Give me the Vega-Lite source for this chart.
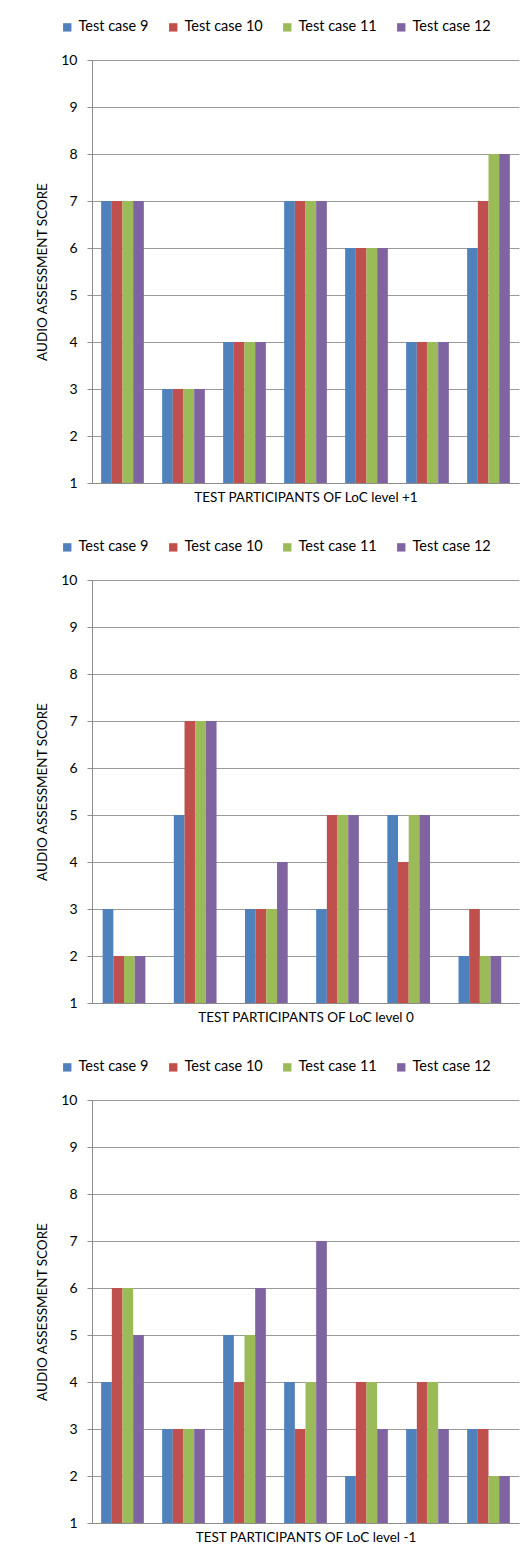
{
  "$schema": "https://vega.github.io/schema/vega-lite/v6.json",
  "background": "white",
  "padding": {"left": 35, "top": 20, "right": 10, "bottom": 10},
  "spacing": 36,
  "resolve": {"scale": {"color": "independent"}, "legend": {"color": "independent"}},
  "config": {
    "font": "Lato",
    "view": {"stroke": null},
    "axis": {
      "domainColor": "#8c8c8c",
      "gridColor": "#9a9a9a",
      "tickColor": "#8c8c8c",
      "labelColor": "#000000",
      "titleColor": "#000000",
      "labelFont": "Lato",
      "titleFont": "Lato",
      "titleFontWeight": "normal",
      "labelFontSize": 14,
      "titleFontSize": 13.5
    },
    "legend": {
      "labelFont": "Lato",
      "labelFontSize": 14.5,
      "labelColor": "#000000",
      "symbolType": "square",
      "symbolSize": 70,
      "symbolStrokeWidth": 0,
      "columnPadding": 17,
      "labelOffset": 4
    }
  },
  "datasets": {
    "scores": [
      {"panel": "+1", "participant": "P1", "case": "Test case 9", "score": 7},
      {"panel": "+1", "participant": "P1", "case": "Test case 10", "score": 7},
      {"panel": "+1", "participant": "P1", "case": "Test case 11", "score": 7},
      {"panel": "+1", "participant": "P1", "case": "Test case 12", "score": 7},
      {"panel": "+1", "participant": "P2", "case": "Test case 9", "score": 3},
      {"panel": "+1", "participant": "P2", "case": "Test case 10", "score": 3},
      {"panel": "+1", "participant": "P2", "case": "Test case 11", "score": 3},
      {"panel": "+1", "participant": "P2", "case": "Test case 12", "score": 3},
      {"panel": "+1", "participant": "P3", "case": "Test case 9", "score": 4},
      {"panel": "+1", "participant": "P3", "case": "Test case 10", "score": 4},
      {"panel": "+1", "participant": "P3", "case": "Test case 11", "score": 4},
      {"panel": "+1", "participant": "P3", "case": "Test case 12", "score": 4},
      {"panel": "+1", "participant": "P4", "case": "Test case 9", "score": 7},
      {"panel": "+1", "participant": "P4", "case": "Test case 10", "score": 7},
      {"panel": "+1", "participant": "P4", "case": "Test case 11", "score": 7},
      {"panel": "+1", "participant": "P4", "case": "Test case 12", "score": 7},
      {"panel": "+1", "participant": "P5", "case": "Test case 9", "score": 6},
      {"panel": "+1", "participant": "P5", "case": "Test case 10", "score": 6},
      {"panel": "+1", "participant": "P5", "case": "Test case 11", "score": 6},
      {"panel": "+1", "participant": "P5", "case": "Test case 12", "score": 6},
      {"panel": "+1", "participant": "P6", "case": "Test case 9", "score": 4},
      {"panel": "+1", "participant": "P6", "case": "Test case 10", "score": 4},
      {"panel": "+1", "participant": "P6", "case": "Test case 11", "score": 4},
      {"panel": "+1", "participant": "P6", "case": "Test case 12", "score": 4},
      {"panel": "+1", "participant": "P7", "case": "Test case 9", "score": 6},
      {"panel": "+1", "participant": "P7", "case": "Test case 10", "score": 7},
      {"panel": "+1", "participant": "P7", "case": "Test case 11", "score": 8},
      {"panel": "+1", "participant": "P7", "case": "Test case 12", "score": 8},

      {"panel": "0", "participant": "P1", "case": "Test case 9", "score": 3},
      {"panel": "0", "participant": "P1", "case": "Test case 10", "score": 2},
      {"panel": "0", "participant": "P1", "case": "Test case 11", "score": 2},
      {"panel": "0", "participant": "P1", "case": "Test case 12", "score": 2},
      {"panel": "0", "participant": "P2", "case": "Test case 9", "score": 5},
      {"panel": "0", "participant": "P2", "case": "Test case 10", "score": 7},
      {"panel": "0", "participant": "P2", "case": "Test case 11", "score": 7},
      {"panel": "0", "participant": "P2", "case": "Test case 12", "score": 7},
      {"panel": "0", "participant": "P3", "case": "Test case 9", "score": 3},
      {"panel": "0", "participant": "P3", "case": "Test case 10", "score": 3},
      {"panel": "0", "participant": "P3", "case": "Test case 11", "score": 3},
      {"panel": "0", "participant": "P3", "case": "Test case 12", "score": 4},
      {"panel": "0", "participant": "P4", "case": "Test case 9", "score": 3},
      {"panel": "0", "participant": "P4", "case": "Test case 10", "score": 5},
      {"panel": "0", "participant": "P4", "case": "Test case 11", "score": 5},
      {"panel": "0", "participant": "P4", "case": "Test case 12", "score": 5},
      {"panel": "0", "participant": "P5", "case": "Test case 9", "score": 5},
      {"panel": "0", "participant": "P5", "case": "Test case 10", "score": 4},
      {"panel": "0", "participant": "P5", "case": "Test case 11", "score": 5},
      {"panel": "0", "participant": "P5", "case": "Test case 12", "score": 5},
      {"panel": "0", "participant": "P6", "case": "Test case 9", "score": 2},
      {"panel": "0", "participant": "P6", "case": "Test case 10", "score": 3},
      {"panel": "0", "participant": "P6", "case": "Test case 11", "score": 2},
      {"panel": "0", "participant": "P6", "case": "Test case 12", "score": 2},

      {"panel": "-1", "participant": "P1", "case": "Test case 9", "score": 4},
      {"panel": "-1", "participant": "P1", "case": "Test case 10", "score": 6},
      {"panel": "-1", "participant": "P1", "case": "Test case 11", "score": 6},
      {"panel": "-1", "participant": "P1", "case": "Test case 12", "score": 5},
      {"panel": "-1", "participant": "P2", "case": "Test case 9", "score": 3},
      {"panel": "-1", "participant": "P2", "case": "Test case 10", "score": 3},
      {"panel": "-1", "participant": "P2", "case": "Test case 11", "score": 3},
      {"panel": "-1", "participant": "P2", "case": "Test case 12", "score": 3},
      {"panel": "-1", "participant": "P3", "case": "Test case 9", "score": 5},
      {"panel": "-1", "participant": "P3", "case": "Test case 10", "score": 4},
      {"panel": "-1", "participant": "P3", "case": "Test case 11", "score": 5},
      {"panel": "-1", "participant": "P3", "case": "Test case 12", "score": 6},
      {"panel": "-1", "participant": "P4", "case": "Test case 9", "score": 4},
      {"panel": "-1", "participant": "P4", "case": "Test case 10", "score": 3},
      {"panel": "-1", "participant": "P4", "case": "Test case 11", "score": 4},
      {"panel": "-1", "participant": "P4", "case": "Test case 12", "score": 7},
      {"panel": "-1", "participant": "P5", "case": "Test case 9", "score": 2},
      {"panel": "-1", "participant": "P5", "case": "Test case 10", "score": 4},
      {"panel": "-1", "participant": "P5", "case": "Test case 11", "score": 4},
      {"panel": "-1", "participant": "P5", "case": "Test case 12", "score": 3},
      {"panel": "-1", "participant": "P6", "case": "Test case 9", "score": 3},
      {"panel": "-1", "participant": "P6", "case": "Test case 10", "score": 4},
      {"panel": "-1", "participant": "P6", "case": "Test case 11", "score": 4},
      {"panel": "-1", "participant": "P6", "case": "Test case 12", "score": 3},
      {"panel": "-1", "participant": "P7", "case": "Test case 9", "score": 3},
      {"panel": "-1", "participant": "P7", "case": "Test case 10", "score": 3},
      {"panel": "-1", "participant": "P7", "case": "Test case 11", "score": 2},
      {"panel": "-1", "participant": "P7", "case": "Test case 12", "score": 2}
    ]
  },
  "vconcat": [
    {
      "width": 427,
      "height": 423,
      "data": {"name": "scores"},
      "transform": [{"filter": "datum.panel === '+1'"}],
      "mark": {"type": "bar"},
      "encoding": {
        "x": {"field": "participant", "type": "nominal", "sort": null,
          "scale": {"paddingInner": 0.3, "paddingOuter": 0.15},
          "axis": {"title": "TEST PARTICIPANTS  OF LoC level +1", "labels": false, "ticks": false, "titlePadding": 7}},
        "xOffset": {"field": "case", "type": "nominal", "sort": ["Test case 9", "Test case 10", "Test case 11", "Test case 12"], "scale": {"paddingInner": 0, "paddingOuter": 0}},
        "y": {"field": "score", "type": "quantitative",
          "scale": {"domain": [1, 10], "zero": false, "nice": false},
          "axis": {"title": "AUDIO ASSESSMENT SCORE", "values": [1, 2, 3, 4, 5, 6, 7, 8, 9, 10], "tickSize": 5, "labelPadding": 10, "titlePadding": 11}},
        "y2": {"datum": 1},
        "color": {"field": "case", "type": "nominal",
          "scale": {"domain": ["Test case 9", "Test case 10", "Test case 11", "Test case 12"], "range": ["#4F81BD", "#C0504D", "#9BBB59", "#8064A2"]},
          "legend": {"title": null, "orient": "none", "direction": "horizontal", "legendX": -32, "legendY": -40}}
      }
    },
    {
      "width": 427,
      "height": 423,
      "data": {"name": "scores"},
      "transform": [{"filter": "datum.panel === '0'"}],
      "mark": {"type": "bar"},
      "encoding": {
        "x": {"field": "participant", "type": "nominal", "sort": null,
          "scale": {"paddingInner": 0.3, "paddingOuter": 0.15},
          "axis": {"title": "TEST PARTICIPANTS  OF LoC level 0", "labels": false, "ticks": false, "titlePadding": 7}},
        "xOffset": {"field": "case", "type": "nominal", "sort": ["Test case 9", "Test case 10", "Test case 11", "Test case 12"], "scale": {"paddingInner": 0, "paddingOuter": 0}},
        "y": {"field": "score", "type": "quantitative",
          "scale": {"domain": [1, 10], "zero": false, "nice": false},
          "axis": {"title": "AUDIO ASSESSMENT SCORE", "values": [1, 2, 3, 4, 5, 6, 7, 8, 9, 10], "tickSize": 5, "labelPadding": 10, "titlePadding": 11}},
        "y2": {"datum": 1},
        "color": {"field": "case", "type": "nominal",
          "scale": {"domain": ["Test case 9", "Test case 10", "Test case 11", "Test case 12"], "range": ["#4F81BD", "#C0504D", "#9BBB59", "#8064A2"]},
          "legend": {"title": null, "orient": "none", "direction": "horizontal", "legendX": -32, "legendY": -40}}
      }
    },
    {
      "width": 427,
      "height": 423,
      "data": {"name": "scores"},
      "transform": [{"filter": "datum.panel === '-1'"}],
      "mark": {"type": "bar"},
      "encoding": {
        "x": {"field": "participant", "type": "nominal", "sort": null,
          "scale": {"paddingInner": 0.3, "paddingOuter": 0.15},
          "axis": {"title": "TEST PARTICIPANTS  OF LoC level -1", "labels": false, "ticks": false, "titlePadding": 7}},
        "xOffset": {"field": "case", "type": "nominal", "sort": ["Test case 9", "Test case 10", "Test case 11", "Test case 12"], "scale": {"paddingInner": 0, "paddingOuter": 0}},
        "y": {"field": "score", "type": "quantitative",
          "scale": {"domain": [1, 10], "zero": false, "nice": false},
          "axis": {"title": "AUDIO ASSESSMENT SCORE", "values": [1, 2, 3, 4, 5, 6, 7, 8, 9, 10], "tickSize": 5, "labelPadding": 10, "titlePadding": 11}},
        "y2": {"datum": 1},
        "color": {"field": "case", "type": "nominal",
          "scale": {"domain": ["Test case 9", "Test case 10", "Test case 11", "Test case 12"], "range": ["#4F81BD", "#C0504D", "#9BBB59", "#8064A2"]},
          "legend": {"title": null, "orient": "none", "direction": "horizontal", "legendX": -32, "legendY": -40}}
      }
    }
  ]
}
